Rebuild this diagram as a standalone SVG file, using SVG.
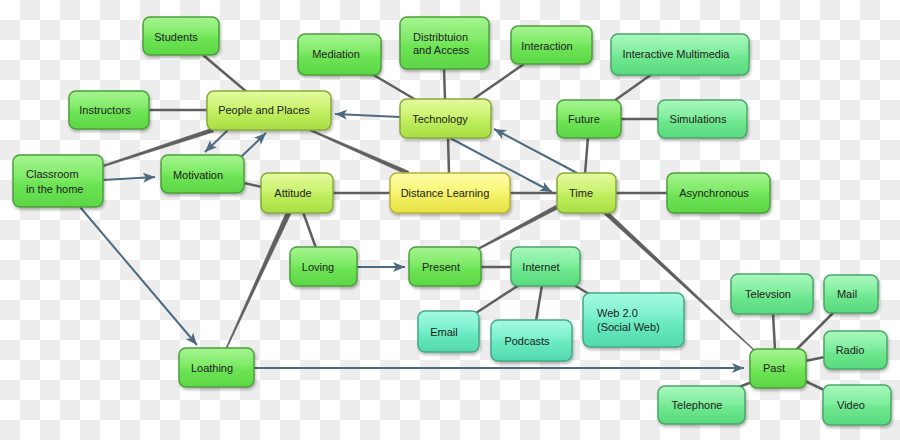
<svg xmlns="http://www.w3.org/2000/svg" width="900" height="440" viewBox="0 0 900 440">
<defs>
<pattern id="chk" width="40" height="40" patternUnits="userSpaceOnUse">
<rect width="40" height="40" fill="#ffffff"/>
<rect x="20" y="0" width="20" height="20" fill="#ededed"/>
<rect x="0" y="20" width="20" height="20" fill="#ededed"/>
</pattern>
<linearGradient id="gGreen" x1="0" y1="0" x2="0" y2="1">
<stop offset="0" stop-color="#a6f592"/><stop offset="0.45" stop-color="#7eea66"/><stop offset="0.55" stop-color="#6ee456"/><stop offset="1" stop-color="#5cd646"/>
</linearGradient>
<linearGradient id="gYG" x1="0" y1="0" x2="0" y2="1">
<stop offset="0" stop-color="#e4fa9e"/><stop offset="0.45" stop-color="#ccf270"/><stop offset="0.55" stop-color="#bfee5e"/><stop offset="1" stop-color="#a8de44"/>
</linearGradient>
<linearGradient id="gYel" x1="0" y1="0" x2="0" y2="1">
<stop offset="0" stop-color="#fdfcaa"/><stop offset="0.45" stop-color="#f8f676"/><stop offset="0.55" stop-color="#f3f166"/><stop offset="1" stop-color="#e6e244"/>
</linearGradient>
<linearGradient id="gMint" x1="0" y1="0" x2="0" y2="1">
<stop offset="0" stop-color="#aaf8be"/><stop offset="0.45" stop-color="#80ee9e"/><stop offset="0.55" stop-color="#70e890"/><stop offset="1" stop-color="#58d97e"/>
</linearGradient>
<linearGradient id="gTeal" x1="0" y1="0" x2="0" y2="1">
<stop offset="0" stop-color="#a6fae2"/><stop offset="0.45" stop-color="#7af0cc"/><stop offset="0.55" stop-color="#6aeac0"/><stop offset="1" stop-color="#54d9ae"/>
</linearGradient>
<filter id="sh" x="-10%" y="-10%" width="130%" height="140%">
<feDropShadow dx="1" dy="2" stdDeviation="1.5" flood-color="#000" flood-opacity="0.3"/>
</filter>
<marker id="ah" markerWidth="13" markerHeight="11" refX="12" refY="5" orient="auto" markerUnits="userSpaceOnUse">
<path d="M0,0 L12,5 L0,10 L3,5 z" fill="#4d6a80"/>
</marker>
</defs>
<style>
.n rect{stroke-width:1.5;filter:url(#sh)}
.green rect{fill:url(#gGreen);stroke:#4e9f3d}
.yg rect{fill:url(#gYG);stroke:#88aa3a}
.yel rect{fill:url(#gYel);stroke:#b8b03a}
.mint rect{fill:url(#gMint);stroke:#4aa66a}
.teal rect{fill:url(#gTeal);stroke:#45a88a}
.n text{font-family:"Liberation Sans",Arial,sans-serif;font-size:11px;fill:#222;text-anchor:middle}
.n text.l{text-anchor:start}
.c line{stroke:#5f5f5f;stroke-width:2.5}
.c polygon{fill:#5f5f5f;stroke:#5f5f5f;stroke-width:0.6}
.a line{stroke:#4d6a80;stroke-width:2;marker-end:url(#ah)}
</style>
<rect width="900" height="440" fill="url(#chk)"/>
<g id="connectors">
<g class="c">
<line x1="203" y1="55" x2="248" y2="93"/>
<line x1="149" y1="110" x2="208" y2="110"/>
<polygon points="103.25,166.76 213.62,131.9 212.38,128.1 102.75,165.24"/>
<line x1="244" y1="183" x2="262" y2="187"/>
<polygon points="309.68,130.73 407.2,174.83 408.8,171.17 310.32,129.27"/>
<line x1="372" y1="74" x2="416" y2="100"/>
<line x1="444" y1="68" x2="445" y2="100"/>
<line x1="524" y1="64" x2="472" y2="100"/>
<line x1="448" y1="137" x2="449" y2="174"/>
<line x1="332" y1="193" x2="391" y2="193"/>
<line x1="509" y1="193" x2="558" y2="193"/>
<line x1="588" y1="137" x2="585" y2="174"/>
<line x1="614" y1="101" x2="652" y2="74"/>
<line x1="620" y1="119" x2="659" y2="119"/>
<line x1="615" y1="193" x2="668" y2="193"/>
<line x1="303" y1="212" x2="316" y2="248"/>
<polygon points="291.27,213.04 226.45,349.21 225.55,348.79 286.73,210.96"/>
<polygon points="557.94,208.77 478.38,249.71 477.62,248.29 556.06,205.23"/>
<line x1="480" y1="267" x2="512" y2="267"/>
<line x1="519" y1="285" x2="476" y2="313"/>
<line x1="542" y1="285" x2="536" y2="321"/>
<line x1="574" y1="285" x2="589" y2="294"/>
<polygon points="603.5,213.6 753.66,350.37 754.34,349.63 606.5,210.4"/>
<line x1="775" y1="350" x2="773" y2="313"/>
<line x1="796" y1="350" x2="834" y2="312"/>
<line x1="805" y1="361" x2="825" y2="357"/>
<line x1="805" y1="381" x2="824" y2="390"/>
<line x1="752" y1="382" x2="739" y2="387"/>
</g>
<g class="a">
<line x1="103" y1="180" x2="155" y2="177"/>
<line x1="80" y1="207" x2="197" y2="345"/>
<line x1="228" y1="130" x2="205" y2="152"/>
<line x1="241" y1="157" x2="266" y2="133"/>
<line x1="400" y1="117" x2="335" y2="114"/>
<line x1="450" y1="138" x2="552" y2="192"/>
<line x1="577" y1="173" x2="494" y2="129"/>
<line x1="357" y1="267" x2="405" y2="267"/>
<line x1="254" y1="368" x2="744" y2="368"/>
</g>
</g>
<g id="students" class="n green"><rect x="143" y="17" width="76" height="38" rx="7"/><text x="176" y="41">Students</text></g>
<g id="instructors" class="n green"><rect x="69" y="91" width="80" height="38" rx="7"/><text x="105" y="114">Instructors</text></g>
<g id="people" class="n yg"><rect x="207" y="91" width="124" height="39" rx="7"/><text x="264" y="114">People and Places</text></g>
<g id="classroom" class="n green"><rect x="13" y="155" width="90" height="52" rx="7"/><text class="l" x="26" y="178">Classroom</text><text class="l" x="26" y="193">in the home</text></g>
<g id="motivation" class="n green"><rect x="161" y="155" width="83" height="38" rx="7"/><text x="198" y="179">Motivation</text></g>
<g id="attitude" class="n yg"><rect x="261" y="173" width="72" height="40" rx="7"/><text x="293" y="197">Attitude</text></g>
<g id="mediation" class="n green"><rect x="298" y="34" width="83" height="41" rx="7"/><text x="336" y="58">Mediation</text></g>
<g id="distribution" class="n green"><rect x="400" y="17" width="89" height="52" rx="7"/><text class="l" x="413" y="41">Distribtuion</text><text class="l" x="413" y="54">and Access</text></g>
<g id="interaction" class="n green"><rect x="511" y="26" width="81" height="38" rx="7"/><text x="547" y="50">Interaction</text></g>
<g id="technology" class="n yg"><rect x="400" y="99" width="91" height="39" rx="7"/><text x="440" y="123">Technology</text></g>
<g id="distance" class="n yel"><rect x="390" y="173" width="120" height="40" rx="7"/><text x="445" y="197">Distance Learning</text></g>
<g id="time" class="n yg"><rect x="557" y="173" width="59" height="40" rx="7"/><text x="581" y="197">Time</text></g>
<g id="future" class="n green"><rect x="557" y="100" width="64" height="38" rx="7"/><text x="584" y="123">Future</text></g>
<g id="multimedia" class="n mint"><rect x="611" y="34" width="138" height="41" rx="7"/><text x="676" y="58">Interactive Multimedia</text></g>
<g id="simulations" class="n mint"><rect x="658" y="100" width="89" height="38" rx="7"/><text x="698" y="123">Simulations</text></g>
<g id="asynchronous" class="n green"><rect x="667" y="173" width="103" height="40" rx="7"/><text x="714" y="197">Asynchronous</text></g>
<g id="loving" class="n green"><rect x="290" y="247" width="67" height="39" rx="7"/><text x="318" y="271">Loving</text></g>
<g id="present" class="n green"><rect x="409" y="247" width="72" height="39" rx="7"/><text x="441" y="271">Present</text></g>
<g id="internet" class="n mint"><rect x="511" y="247" width="69" height="39" rx="7"/><text x="541" y="271">Internet</text></g>
<g id="email" class="n teal"><rect x="418" y="311" width="61" height="41" rx="7"/><text x="444" y="336">Email</text></g>
<g id="podcasts" class="n teal"><rect x="491" y="320" width="81" height="41" rx="7"/><text x="527" y="345">Podcasts</text></g>
<g id="web20" class="n teal"><rect x="583" y="293" width="101" height="54" rx="7"/><text class="l" x="597" y="317">Web 2.0</text><text class="l" x="597" y="331">(Social Web)</text></g>
<g id="loathing" class="n green"><rect x="179" y="348" width="75" height="39" rx="7"/><text x="212" y="372">Loathing</text></g>
<g id="televsion" class="n mint"><rect x="731" y="274" width="82" height="40" rx="7"/><text x="768" y="298">Televsion</text></g>
<g id="mail" class="n mint"><rect x="824" y="275" width="54" height="38" rx="7"/><text x="847" y="298">Mail</text></g>
<g id="radio" class="n mint"><rect x="824" y="331" width="63" height="38" rx="7"/><text x="850" y="354">Radio</text></g>
<g id="past" class="n green"><rect x="750" y="349" width="56" height="39" rx="7"/><text x="774" y="372">Past</text></g>
<g id="telephone" class="n mint"><rect x="658" y="386" width="87" height="38" rx="7"/><text x="697" y="409">Telephone</text></g>
<g id="video" class="n mint"><rect x="823" y="385" width="68" height="40" rx="7"/><text x="851" y="409">Video</text></g>
</svg>
